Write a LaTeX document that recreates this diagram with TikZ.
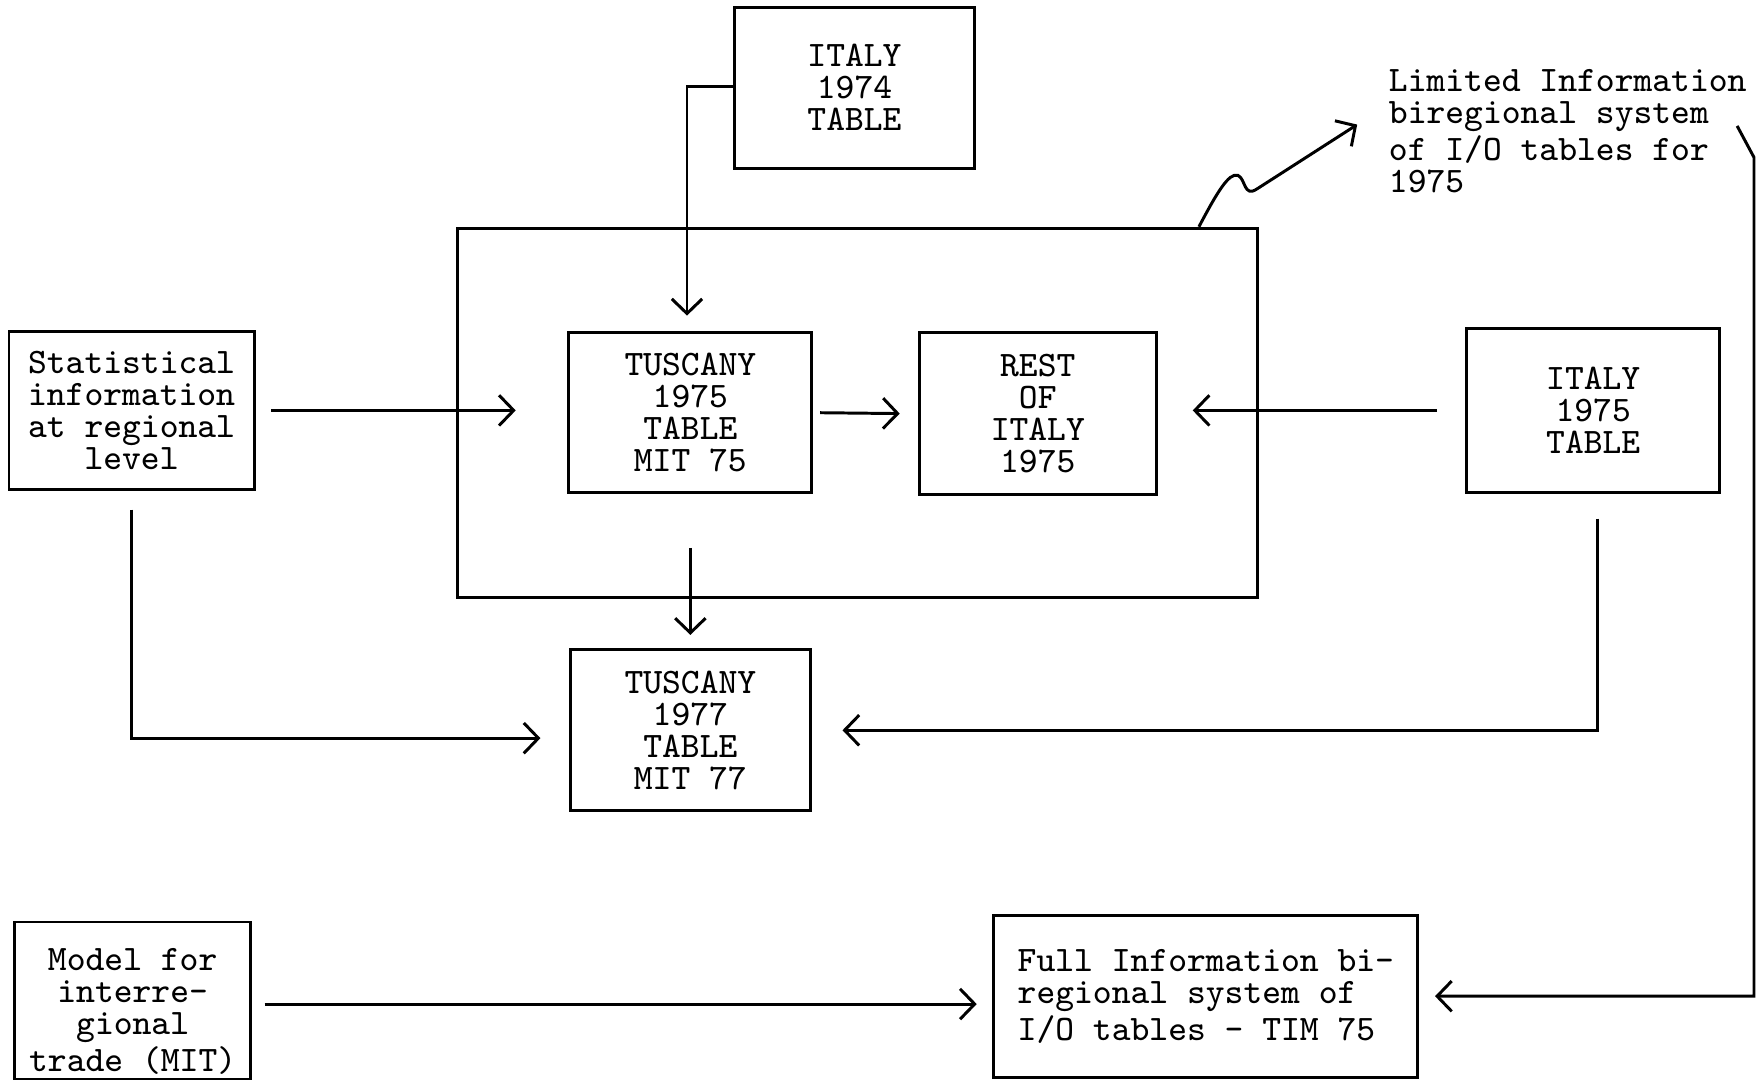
\documentclass[tikz,border=0pt]{standalone}
\usepackage{fontspec}
\usetikzlibrary{arrows.meta}
\begin{document}
\begin{tikzpicture}[x=0.1mm,y=-0.1mm,line width=0.75pt,
    tt/.style={font=\ttfamily\fontsize{9.07}{8.1}\selectfont\addfontfeature{FakeBold=0.8}},
    box/.style={tt,draw,align=center,inner sep=0pt},
    arr/.style={-{Straight Barb[length=1.3mm,width=2.7mm]}}]
  \useasboundingbox (0,0) rectangle (1568,960);
  \node[draw,minimum width=71.1mm,minimum height=32.8mm] (sys) at (762.5,367) {};
  \node[box,minimum width=21.4mm,minimum height=14.3mm] (it74) at (760,78) {ITALY\\1974\\TABLE};
  \node[box,minimum width=21.8mm,minimum height=14.0mm] (stat) at (117,365) {Statistical\\information\\at regional\\level};
  \node[box,minimum width=21.6mm,minimum height=14.2mm] (tusc75) at (614,367) {TUSCANY\\1975\\TABLE\\MIT 75};
  \node[box,minimum width=21.1mm,minimum height=14.4mm] (rest) at (923,368) {REST\\OF\\ITALY\\1975};
  \node[box,minimum width=22.5mm,minimum height=14.6mm] (it75) at (1417,365) {ITALY\\1975\\TABLE};
  \node[box,minimum width=21.4mm,minimum height=14.3mm] (tusc77) at (614,649.5) {TUSCANY\\1977\\TABLE\\MIT 77};
  \node[box,minimum width=21.0mm,minimum height=14.0mm] (model) at (118,890) {\rule{0pt}{3.9mm}Model for\\interre-\\gional\\trade (MIT)};
  \node[box,align=left,minimum width=37.7mm,minimum height=14.4mm] (full) at (1072.5,886) {Full Information bi-\\regional system of\\I/O tables - TIM 75};
  \node[tt,align=left,anchor=west,inner sep=0pt] (lim) at (1234,116.5) {Limited Information\\biregional system\\of I/O tables for\\1975};
  \coordinate (limtail) at (1545,112);
  \begin{scope}[arr]
    \draw[shorten >=1.4mm] ([yshift=0.1mm]it74.west) -| ([xshift=-0.3mm]tusc75.north);
    \draw[shorten <=1.4mm,shorten >=4.6mm] (stat.east) -- (stat.east -| tusc75.west);
    \draw[shorten <=0.6mm,shorten >=1.6mm] (tusc75.east) -- (rest.west);
    \draw[shorten <=2.5mm,shorten >=3.1mm] (it75.west) -- (it75.west -| rest.east);
    \draw[shorten <=4.8mm,shorten >=1.2mm] (tusc75.south) -- (tusc77.north);
    \draw[shorten <=1.7mm,shorten >=2.5mm] (stat.south) |- ([yshift=-0.7mm]tusc77.west);
    \draw[shorten <=2.2mm,shorten >=2.7mm] ([xshift=0.4mm]it75.south) |- (tusc77.east);
    \draw[shorten <=1.1mm,shorten >=1.4mm] ([yshift=-0.3mm]model.east) -- ([yshift=-0.3mm]model.east -| full.west);
    \draw[shorten >=1.4mm] (limtail) -- (1560,140) |- (full.east);
    \draw[shorten >=3.2mm] ([xshift=-5.3mm]sys.north east) .. controls (1082,172) and (1093,153) .. (1101,156)
      .. controls (1108,159) and (1106,176) .. (1118,168) -- ([yshift=2.3mm]lim.west);
  \end{scope}
\end{tikzpicture}
\end{document}
